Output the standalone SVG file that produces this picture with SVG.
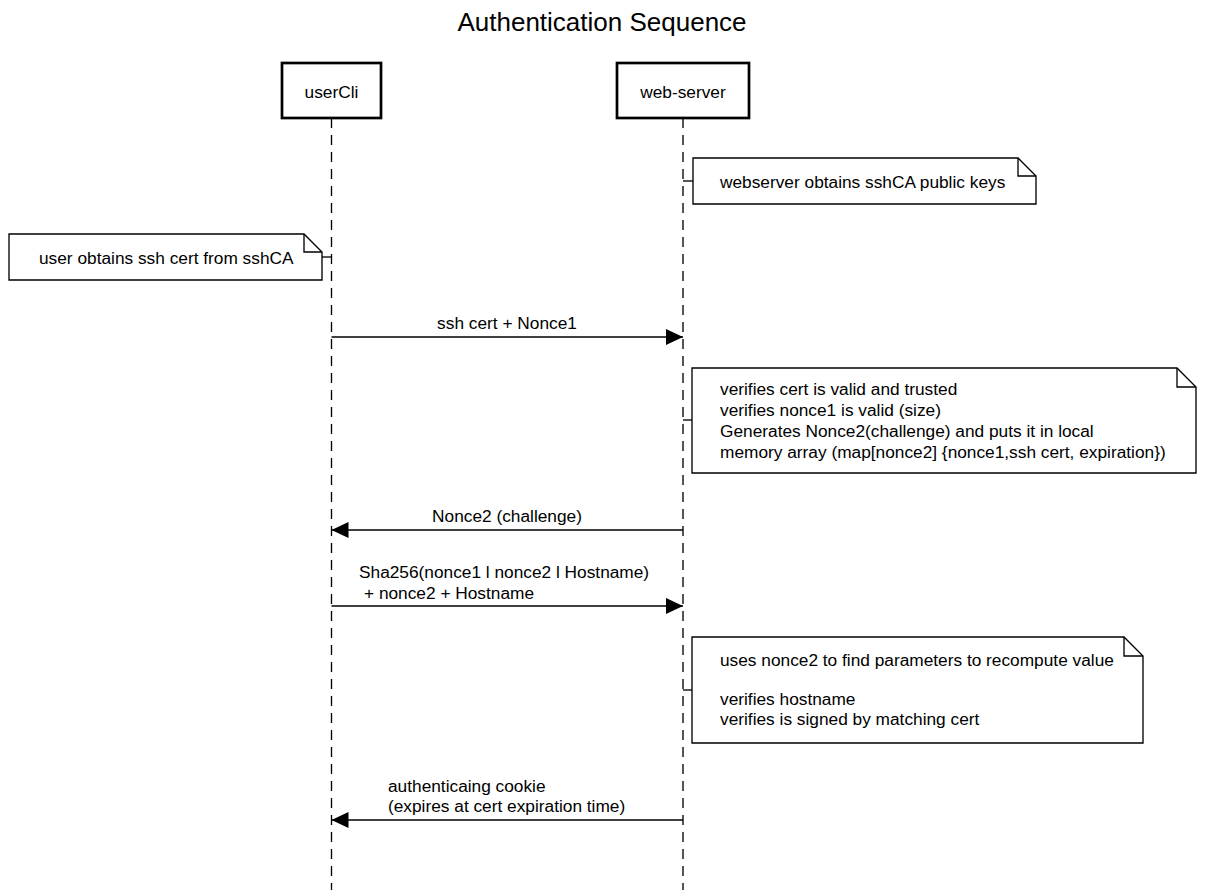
<svg xmlns="http://www.w3.org/2000/svg" width="1205" height="890" viewBox="0 0 1205 890">
  <style>
    text { font-family: "Liberation Sans", Arial, Helvetica, sans-serif; fill: #000; }
    .t { font-size: 17.3px; }
    .title { font-size: 26px; }
    .actor { fill: #fff; stroke: #000; stroke-width: 2.7; }
    .life { stroke: #000; stroke-width: 1.33; stroke-dasharray: 10 7; fill: none; }
    .note { fill: #fff; stroke: #000; stroke-width: 1.33; stroke-linejoin: miter; }
    .fold { fill: none; stroke: #000; stroke-width: 1.33; }
    .msg { stroke: #000; stroke-width: 1.33; fill: none; marker-end: url(#ah); }
    .link { stroke: #000; stroke-width: 1.33; fill: none; }
  </style>
  <defs>
    <marker id="ah" viewBox="0 0 17 16" refX="17" refY="8" markerWidth="17" markerHeight="16" markerUnits="userSpaceOnUse" orient="auto">
      <path d="M0,0 L17,8 L0,16 Z" fill="#000"/>
    </marker>
  </defs>
  <rect width="1205" height="890" fill="#fff"/>
  <text class="title" x="602" y="31" text-anchor="middle">Authentication Sequence</text>

  <g id="userCli">
    <line class="life" x1="331.5" y1="118" x2="331.5" y2="890"/>
    <rect class="actor" x="282" y="63" width="99" height="55"/>
    <text class="t" x="331.5" y="98" text-anchor="middle">userCli</text>
  </g>

  <g id="web-server">
    <line class="life" x1="683" y1="118" x2="683" y2="890"/>
    <rect class="actor" x="617" y="63" width="132" height="55"/>
    <text class="t" x="683" y="98" text-anchor="middle">web-server</text>
  </g>

  <g id="note-webserver-keys">
    <path class="note" d="M693,158 H1018 L1036,176 V204 H693 Z"/>
    <path class="fold" d="M1018,158 V176 H1036"/>
    <text class="t" x="720" y="188">webserver obtains sshCA public keys</text>
  </g>

  <g id="note-user-cert">
    <path class="note" d="M9,234 H304 L322,252 V280 H9 Z"/>
    <path class="fold" d="M304,234 V252 H322"/>
    <text class="t" x="39" y="264">user obtains ssh cert from sshCA</text>
  </g>

  <g id="note-verify">
    <path class="note" d="M692,368 H1177 L1196,387 V473 H692 Z"/>
    <path class="fold" d="M1177,368 V387 H1196"/>
    <text class="t" x="720" y="395">verifies cert is valid and trusted</text>
    <text class="t" x="720" y="416">verifies nonce1 is valid (size)</text>
    <text class="t" x="720" y="437">Generates Nonce2(challenge) and puts it in local</text>
    <text class="t" x="720" y="458">memory array (map[nonce2] {nonce1,ssh cert, expiration})</text>
  </g>

  <g id="note-recompute">
    <path class="note" d="M692,637 H1124 L1143,656 V743 H692 Z"/>
    <path class="fold" d="M1124,637 V656 H1143"/>
    <text class="t" x="720" y="666">uses nonce2 to find parameters to recompute value</text>
    <text class="t" x="720" y="705">verifies hostname</text>
    <text class="t" x="720" y="725">verifies is signed by matching cert</text>
  </g>

  <g id="connectors">
    <path class="link" d="M683,181 H693"/>
    <path class="link" d="M331.5,257 H322"/>
    <path class="link" d="M683,420 H692"/>
    <path class="link" d="M683,690 H692"/>

    <line class="msg" x1="331.5" y1="337" x2="683" y2="337"/>
    <text class="t" x="507" y="329" text-anchor="middle">ssh cert + Nonce1</text>

    <line class="msg" x1="683" y1="530" x2="331.5" y2="530"/>
    <text class="t" x="507" y="522" text-anchor="middle">Nonce2 (challenge)</text>

    <line class="msg" x1="331.5" y1="606" x2="683" y2="606"/>
    <text class="t" x="359" y="578">Sha256(nonce1 l nonce2 l Hostname)</text>
    <text class="t" x="364" y="599">+ nonce2 + Hostname</text>

    <line class="msg" x1="683" y1="820" x2="331.5" y2="820"/>
    <text class="t" x="388" y="792">authenticaing cookie</text>
    <text class="t" x="388" y="812">(expires at cert expiration time)</text>
  </g>
</svg>
